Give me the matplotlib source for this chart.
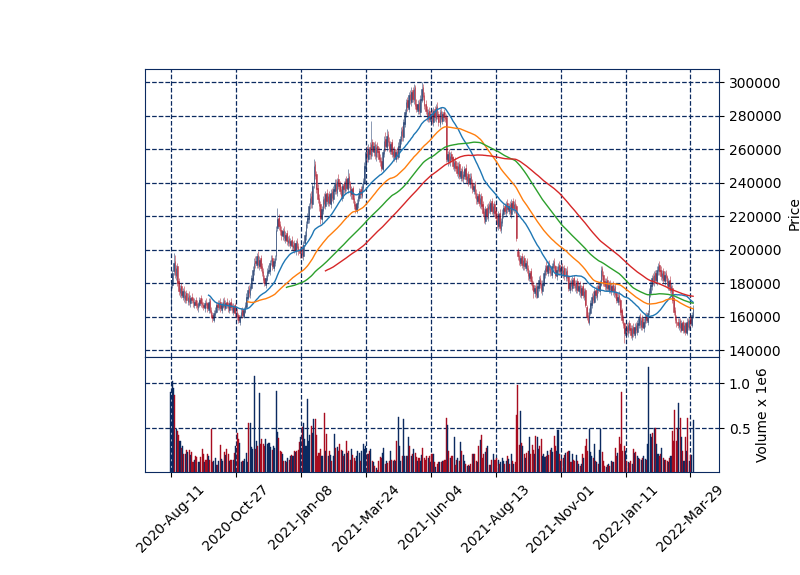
import numpy as np
import pandas as pd
import matplotlib
matplotlib.use("Agg")
import matplotlib.pyplot as plt

# ---------------- data (prices in thousands, volume in millions) ----------------
HOLIDAYS = ['2020-08-17', '2020-09-30', '2020-10-01', '2020-10-02', '2020-10-09',
            '2020-12-25', '2020-12-31', '2021-01-01', '2021-02-11', '2021-02-12',
            '2021-03-01', '2021-05-05', '2021-05-19', '2021-08-16', '2021-09-20',
            '2021-09-21', '2021-09-22', '2021-10-04', '2021-10-11', '2021-12-31',
            '2022-01-31', '2022-02-01', '2022-02-02', '2022-03-01', '2022-03-09']
START_DATE = '2020-08-11'
END_DATE = '2022-03-31'

TICK_LABELS = ['2020-Aug-11', '2020-Oct-27', '2021-Jan-08', '2021-Mar-24', '2021-Jun-04',
               '2021-Aug-13', '2021-Nov-01', '2022-Jan-11', '2022-Mar-29']

MAV = [30, 60, 90, 120]

OPEN = [
    168, 179, 187, 193, 184, 190, 181, 174, 178, 172,
    176, 170, 174, 169, 173, 168, 172, 171, 167, 170,
    168, 165, 167, 171, 169, 167, 165, 169, 168, 164,
    170, 164, 161, 158, 161, 163, 168, 165, 169, 164,
    166, 170, 165, 169, 168, 164, 169, 167, 163, 167,
    161, 163, 161, 157, 160, 164, 160, 163, 166, 171,
    177, 173, 177, 182, 187, 193, 191, 197, 190, 195,
    190, 187, 183, 179, 182, 186, 187, 193, 195, 189,
    192, 196, 213, 219, 215, 212, 208, 212, 206, 210,
    204, 207, 203, 206, 201, 204, 199, 205, 202, 200,
    197, 201, 196, 204, 208, 216, 218, 227, 232, 227,
    239, 251, 245, 237, 231, 227, 218, 223, 231, 226,
    234, 228, 233, 227, 235, 230, 235, 240, 234, 242,
    239, 236, 231, 239, 235, 242, 236, 244, 240, 233,
    237, 231, 227, 223, 227, 231, 236, 232, 237, 240,
    249, 259, 254, 261, 256, 264, 258, 263, 255, 262,
    259, 255, 253, 248, 257, 266, 261, 269, 265, 259,
    264, 256, 260, 254, 259, 255, 261, 265, 272, 267,
    275, 281, 289, 284, 293, 288, 295, 289, 297, 287,
    283, 288, 282, 289, 297, 292, 287, 284, 278, 283,
    277, 282, 276, 284, 278, 286, 281, 275, 283, 277,
    282, 280, 279, 253, 258, 252, 257, 255, 249, 253,
    250, 245, 251, 243, 248, 242, 244, 249, 241, 245,
    239, 244, 240, 235, 239, 234, 229, 233, 227, 232,
    227, 223, 217, 225, 219, 227, 223, 229, 222, 227,
    223, 220, 214, 222, 212, 216, 221, 226, 222, 228,
    223, 227, 221, 229, 224, 228, 226, 199, 197, 192,
    196, 190, 195, 189, 193, 189, 183, 187, 182, 179,
    174, 178, 172, 177, 183, 180, 175, 179, 185, 190,
    186, 192, 189, 185, 189, 193, 190, 184, 187, 191,
    186, 190, 185, 189, 183, 188, 184, 176, 181, 177,
    183, 180, 176, 181, 175, 179, 173, 178, 172, 176,
    166, 161, 156, 162, 167, 173, 169, 176, 172, 178,
    175, 179, 189, 185, 181, 177, 182, 176, 180, 175,
    179, 174, 178, 174, 169, 173, 170, 164, 159, 156,
    149, 154, 150, 156, 153, 148, 154, 149, 155, 151,
    155, 160, 154, 159, 153, 156, 161, 157, 163, 174,
    178, 184, 180, 186, 181, 187, 191, 188, 183, 187,
    181, 186, 184, 178, 182, 175, 177, 171, 164, 159,
    157, 154, 158, 152, 157, 151, 156, 150, 158, 153,
    159, 155, 160]

HIGH = [
    181, 188, 198, 197, 191, 192, 183, 179, 180, 177,
    178, 175, 176, 174, 175, 173, 174, 172, 171, 172,
    170, 169, 172, 173, 171, 169, 170, 171, 169, 171,
    171, 166, 163, 164, 166, 169, 170, 170, 171, 169,
    171, 172, 170, 171, 169, 170, 171, 168, 168, 168,
    164, 165, 162, 161, 165, 166, 166, 169, 174, 178,
    179, 180, 185, 190, 195, 196, 198, 199, 196, 197,
    192, 189, 185, 185, 189, 191, 194, 197, 197, 195,
    197, 214, 225, 221, 217, 214, 213, 214, 211, 212,
    208, 209, 207, 208, 205, 206, 206, 207, 204, 202,
    202, 203, 205, 211, 217, 222, 228, 234, 235, 240,
    254, 253, 247, 239, 233, 229, 226, 232, 234, 235,
    236, 234, 235, 236, 237, 238, 242, 242, 243, 245,
    241, 238, 240, 241, 243, 244, 248, 246, 241, 238,
    238, 233, 229, 230, 234, 237, 238, 240, 243, 252,
    261, 262, 263, 264, 277, 266, 264, 265, 263, 264,
    261, 257, 255, 260, 268, 270, 272, 271, 267, 265,
    266, 261, 262, 260, 261, 264, 268, 273, 274, 278,
    284, 290, 291, 294, 295, 297, 297, 299, 298, 290,
    289, 290, 292, 300, 299, 294, 289, 286, 284, 285,
    283, 284, 285, 286, 287, 288, 283, 284, 285, 283,
    284, 282, 281, 259, 260, 258, 259, 256, 254, 255,
    252, 252, 253, 249, 250, 247, 250, 251, 246, 247,
    246, 246, 242, 240, 241, 236, 234, 235, 233, 234,
    229, 225, 226, 227, 228, 229, 230, 231, 228, 229,
    225, 222, 223, 224, 219, 224, 227, 228, 229, 230,
    228, 229, 230, 231, 229, 230, 227, 201, 199, 197,
    198, 196, 197, 194, 195, 191, 188, 189, 184, 181,
    179, 180, 180, 184, 185, 182, 182, 188, 191, 193,
    193, 194, 191, 192, 194, 195, 191, 190, 192, 193,
    191, 192, 190, 191, 189, 190, 185, 182, 183, 184,
    185, 182, 182, 183, 180, 181, 179, 180, 177, 177,
    167, 163, 165, 170, 174, 175, 177, 178, 179, 180,
    182, 190, 190, 187, 183, 183, 184, 181, 182, 180,
    181, 179, 180, 175, 174, 175, 171, 165, 161, 157,
    155, 156, 157, 158, 155, 155, 156, 156, 157, 158,
    161, 162, 160, 161, 159, 162, 163, 164, 177, 181,
    185, 186, 187, 188, 190, 192, 193, 190, 188, 189,
    187, 188, 185, 183, 184, 180, 179, 172, 166, 161,
    159, 159, 159, 158, 158, 157, 157, 159, 159, 160,
    161, 163, 167]

LOW = [
    166, 177, 185, 183, 182, 178, 173, 172, 171, 170,
    169, 168, 168, 167, 167, 166, 168, 166, 165, 165,
    164, 163, 166, 166, 165, 164, 163, 165, 163, 162,
    162, 159, 157, 157, 160, 162, 164, 164, 163, 162,
    165, 164, 164, 165, 163, 162, 164, 162, 161, 160,
    159, 158, 156, 155, 159, 159, 159, 162, 165, 170,
    172, 171, 176, 181, 185, 189, 189, 189, 188, 187,
    184, 180, 178, 177, 181, 184, 185, 191, 188, 187,
    190, 194, 211, 212, 209, 206, 206, 205, 204, 203,
    202, 202, 201, 200, 199, 198, 197, 199, 197, 195,
    195, 195, 194, 202, 206, 213, 216, 224, 225, 225,
    237, 242, 234, 228, 223, 215, 216, 221, 225, 224,
    227, 226, 226, 225, 229, 228, 233, 233, 232, 236,
    233, 230, 229, 234, 233, 235, 234, 237, 232, 230,
    228, 224, 222, 222, 225, 229, 231, 231, 235, 239,
    247, 252, 252, 254, 254, 256, 256, 254, 253, 255,
    252, 250, 247, 247, 255, 259, 259, 262, 258, 257,
    255, 254, 253, 252, 254, 254, 259, 263, 265, 265,
    273, 279, 283, 282, 287, 286, 288, 287, 284, 282,
    281, 281, 280, 288, 289, 284, 281, 277, 276, 276,
    275, 275, 274, 277, 276, 278, 274, 273, 276, 275,
    277, 276, 252, 250, 251, 250, 252, 248, 247, 247,
    244, 243, 242, 241, 241, 240, 242, 240, 239, 238,
    237, 237, 234, 233, 231, 227, 227, 226, 225, 224,
    220, 216, 215, 218, 217, 222, 221, 221, 220, 220,
    217, 213, 212, 211, 210, 214, 219, 221, 220, 222,
    221, 220, 219, 223, 222, 222, 205, 194, 191, 190,
    189, 188, 188, 187, 186, 182, 181, 179, 176, 171,
    172, 171, 171, 175, 177, 174, 173, 178, 183, 185,
    184, 186, 184, 183, 187, 187, 183, 182, 185, 185,
    184, 184, 183, 182, 181, 181, 175, 174, 176, 175,
    177, 175, 174, 174, 173, 172, 171, 171, 170, 166,
    158, 156, 155, 161, 165, 168, 168, 171, 170, 174,
    173, 178, 182, 178, 176, 175, 175, 174, 174, 173,
    173, 172, 171, 168, 167, 167, 161, 156, 153, 144,
    147, 149, 148, 150, 147, 146, 148, 147, 150, 149,
    153, 153, 152, 152, 151, 154, 156, 155, 161, 172,
    176, 179, 178, 180, 179, 185, 185, 182, 181, 180,
    179, 181, 177, 176, 174, 173, 168, 161, 156, 154,
    153, 152, 151, 151, 150, 150, 149, 149, 152, 152,
    154, 154, 159]

CLOSE = [
    178, 186, 192, 185, 189, 180, 175, 177, 173, 175,
    171, 173, 170, 172, 169, 171, 170, 168, 169, 167,
    166, 168, 170, 168, 167, 166, 168, 167, 165, 169,
    163, 160, 159, 162, 164, 167, 166, 168, 165, 167,
    169, 166, 168, 167, 165, 168, 166, 164, 166, 162,
    162, 160, 158, 160, 163, 161, 164, 167, 172, 176,
    174, 178, 183, 188, 192, 192, 196, 191, 194, 189,
    186, 182, 180, 183, 187, 188, 192, 194, 190, 193,
    195, 212, 218, 214, 211, 209, 211, 207, 209, 205,
    206, 204, 205, 202, 203, 200, 204, 201, 199, 198,
    200, 197, 203, 209, 215, 219, 226, 231, 228, 238,
    250, 244, 236, 230, 226, 219, 224, 230, 227, 233,
    229, 232, 228, 234, 231, 236, 239, 235, 241, 238,
    235, 232, 238, 236, 241, 237, 243, 239, 234, 236,
    230, 226, 224, 228, 232, 235, 233, 238, 241, 250,
    258, 255, 260, 257, 263, 259, 262, 256, 261, 258,
    254, 252, 249, 258, 265, 262, 268, 264, 260, 263,
    257, 259, 255, 258, 256, 262, 266, 271, 268, 276,
    282, 288, 285, 292, 289, 294, 290, 296, 286, 284,
    287, 283, 290, 296, 291, 286, 283, 279, 282, 278,
    281, 277, 283, 279, 285, 280, 276, 282, 278, 281,
    279, 278, 254, 257, 253, 256, 254, 250, 252, 249,
    246, 250, 244, 247, 243, 245, 248, 242, 244, 240,
    243, 239, 236, 238, 233, 230, 232, 228, 231, 226,
    222, 218, 224, 220, 226, 224, 228, 223, 226, 222,
    219, 215, 221, 213, 217, 222, 225, 223, 227, 224,
    226, 222, 228, 225, 227, 224, 207, 196, 193, 195,
    191, 194, 190, 192, 188, 184, 186, 181, 178, 175,
    177, 173, 178, 182, 179, 176, 180, 186, 189, 187,
    191, 188, 186, 190, 192, 189, 185, 188, 190, 187,
    189, 186, 188, 184, 187, 183, 177, 180, 178, 182,
    179, 177, 180, 176, 178, 174, 177, 173, 175, 167,
    160, 157, 163, 168, 172, 170, 175, 173, 177, 176,
    180, 188, 184, 180, 178, 181, 177, 179, 176, 178,
    175, 177, 173, 170, 172, 169, 163, 158, 155, 150,
    153, 151, 155, 152, 149, 153, 150, 154, 152, 156,
    159, 155, 158, 154, 157, 160, 158, 162, 175, 179,
    183, 181, 185, 182, 188, 190, 187, 184, 186, 182,
    185, 183, 179, 181, 176, 178, 170, 163, 158, 156,
    155, 157, 153, 156, 152, 155, 151, 157, 154, 158,
    156, 161, 165]

VOLUME = [
    0.90, 1.03, 0.95, 0.87, 0.49, 0.47, 0.42, 0.36, 0.28, 0.30,
    0.21, 0.21, 0.26, 0.24, 0.26, 0.20, 0.23, 0.12, 0.15, 0.19,
    0.18, 0.12, 0.12, 0.18, 0.27, 0.21, 0.12, 0.15, 0.21, 0.19,
    0.15, 0.49, 0.12, 0.14, 0.17, 0.09, 0.09, 0.13, 0.31, 0.16,
    0.13, 0.24, 0.20, 0.27, 0.21, 0.13, 0.15, 0.15, 0.15, 0.22,
    0.30, 0.45, 0.38, 0.34, 0.12, 0.14, 0.14, 0.16, 0.22, 0.12,
    0.56, 0.56, 0.29, 0.27, 1.08, 0.27, 0.36, 0.30, 0.89, 0.32,
    0.38, 0.32, 0.30, 0.38, 0.32, 0.34, 0.34, 0.29, 0.26, 0.30,
    0.28, 0.91, 0.46, 0.39, 0.25, 0.23, 0.21, 0.13, 0.13, 0.12,
    0.17, 0.15, 0.19, 0.20, 0.19, 0.25, 0.24, 0.25, 0.26, 0.35,
    0.40, 0.51, 0.56, 0.38, 0.30, 0.83, 0.36, 0.42, 0.53, 0.45,
    0.60, 0.60, 0.42, 0.19, 0.22, 0.27, 0.19, 0.19, 0.67, 0.25,
    0.44, 0.19, 0.25, 0.20, 0.13, 0.19, 0.44, 0.28, 0.29, 0.25,
    0.32, 0.26, 0.25, 0.19, 0.21, 0.36, 0.22, 0.25, 0.15, 0.27,
    0.20, 0.17, 0.13, 0.19, 0.25, 0.22, 0.13, 0.25, 0.32, 0.27,
    0.30, 0.21, 0.21, 0.25, 0.27, 0.14, 0.12, 0.08, 0.06, 0.04,
    0.13, 0.18, 0.17, 0.22, 0.28, 0.10, 0.13, 0.11, 0.13, 0.25,
    0.15, 0.14, 0.15, 0.13, 0.36, 0.63, 0.30, 0.13, 0.19, 0.60,
    0.19, 0.19, 0.19, 0.40, 0.30, 0.19, 0.21, 0.27, 0.22, 0.18,
    0.13, 0.17, 0.13, 0.20, 0.28, 0.17, 0.15, 0.19, 0.17, 0.19,
    0.12, 0.21, 0.21, 0.12, 0.07, 0.10, 0.12, 0.12, 0.12, 0.13,
    0.13, 0.15, 0.61, 0.54, 0.25, 0.17, 0.19, 0.19, 0.40, 0.09,
    0.15, 0.17, 0.13, 0.35, 0.25, 0.20, 0.13, 0.10, 0.08, 0.09,
    0.08, 0.10, 0.21, 0.21, 0.21, 0.13, 0.12, 0.30, 0.37, 0.42,
    0.17, 0.21, 0.24, 0.28, 0.30, 0.09, 0.09, 0.15, 0.21, 0.15,
    0.15, 0.17, 0.15, 0.10, 0.12, 0.17, 0.14, 0.10, 0.14, 0.19,
    0.16, 0.10, 0.21, 0.13, 0.10, 0.12, 0.65, 0.98, 0.31, 0.69,
    0.34, 0.30, 0.21, 0.17, 0.22, 0.25, 0.40, 0.21, 0.31, 0.26,
    0.21, 0.41, 0.40, 0.27, 0.30, 0.38, 0.19, 0.21, 0.18, 0.19,
    0.25, 0.20, 0.26, 0.28, 0.23, 0.41, 0.30, 0.25, 0.48, 0.21,
    0.13, 0.16, 0.17, 0.20, 0.22, 0.24, 0.25, 0.25, 0.12, 0.21,
    0.15, 0.13, 0.20, 0.13, 0.10, 0.08, 0.10, 0.21, 0.17, 0.30,
    0.38, 0.25, 0.49, 0.23, 0.19, 0.17, 0.32, 0.14, 0.12, 0.10,
    0.26, 0.49, 0.23, 0.13, 0.08, 0.07, 0.09, 0.10, 0.08, 0.13,
    0.12, 0.12, 0.28, 0.19, 0.22, 0.40, 0.32, 0.90, 0.25, 0.30,
    0.25, 0.13, 0.12, 0.11, 0.13, 0.10, 0.27, 0.22, 0.23, 0.19,
    0.17, 0.16, 0.15, 0.17, 0.19, 0.16, 0.15, 0.32, 1.18, 0.44,
    0.40, 0.45, 0.50, 0.50, 0.32, 0.21, 0.19, 0.21, 0.28, 0.17,
    0.15, 0.15, 0.13, 0.12, 0.17, 0.19, 0.47, 0.36, 0.70, 0.36,
    0.50, 0.78, 0.61, 0.40, 0.25, 0.14, 0.40, 0.25, 0.61, 0.14,
    0.20, 0.20, 0.59]

# ---------------- styling ----------------
UP = '#0b2a60'
DOWN = '#a80c1f'
NAVY = '#0b2a60'
MAV_COLORS = ['#1f77b4', '#ff7f0e', '#2ca02c', '#d62728']

dates = pd.bdate_range(START_DATE, END_DATE, freq='C', holidays=HOLIDAYS)
n = len(CLOSE)
dates = dates[:n]
df = pd.DataFrame({'Open': np.array(OPEN) * 1000.0, 'High': np.array(HIGH) * 1000.0,
                   'Low': np.array(LOW) * 1000.0, 'Close': np.array(CLOSE) * 1000.0,
                   'Volume': np.array(VOLUME)}, index=dates[:n])
x = np.arange(n)
up = df['Close'].values >= df['Open'].values
colors = np.where(up, UP, DOWN)

fig = plt.figure(figsize=(8, 5.75), dpi=100)
ax = fig.add_axes([0.181, 0.380, 0.718, 0.500])
axv = fig.add_axes([0.181, 0.179, 0.718, 0.201], sharex=ax)

for a in (ax, axv):
    a.set_axisbelow(True)
    a.grid(True, linestyle='--', color=NAVY, linewidth=0.9)
    for s in a.spines.values():
        s.set_color(NAVY)
    a.yaxis.tick_right()
    a.yaxis.set_label_position('right')

# candles
ax.vlines(x, df['Low'], df['High'], colors=colors, linewidth=0.55, alpha=0.6, zorder=3)
body_bottom = np.minimum(df['Open'].values, df['Close'].values)
body_h = np.abs(df['Close'].values - df['Open'].values)
ax.bar(x, body_h, bottom=body_bottom, width=0.45, color=colors, edgecolor=colors,
       linewidth=0.5, alpha=0.6, zorder=3)

# moving averages
for m, c in zip(MAV, MAV_COLORS):
    ax.plot(x, df['Close'].rolling(m).mean(), color=c, linewidth=1.0, zorder=4)

# volume
axv.bar(x, df['Volume'], width=0.8, color=colors, edgecolor=colors, linewidth=0.3, zorder=3)

# limits
pad = 0.05 * (n - 1)
ax.set_xlim(-pad, (n - 1) + pad)
lo, hi = df['Low'].min(), df['High'].max()
ax.set_ylim(lo - 0.05 * (hi - lo), hi + 0.05 * (hi - lo))
axv.set_ylim(0.3 * df['Volume'].min(), 1.1 * df['Volume'].max())

ax.set_ylabel('Price')
axv.set_ylabel('Volume x 1e6')
axv.set_yticks([0.5, 1.0])

labels_fmt = [d.strftime('%Y-%b-%d') for d in dates]
tick_pos = [labels_fmt.index(t) for t in TICK_LABELS]
axv.set_xticks(tick_pos)
axv.set_xticklabels(TICK_LABELS, rotation=45, ha='center')
ax.tick_params(axis='x', which='both', bottom=False, labelbottom=False)
ax.set_yticks(np.arange(140000, 300001, 20000))

fig.savefig('out.png', dpi=100)
